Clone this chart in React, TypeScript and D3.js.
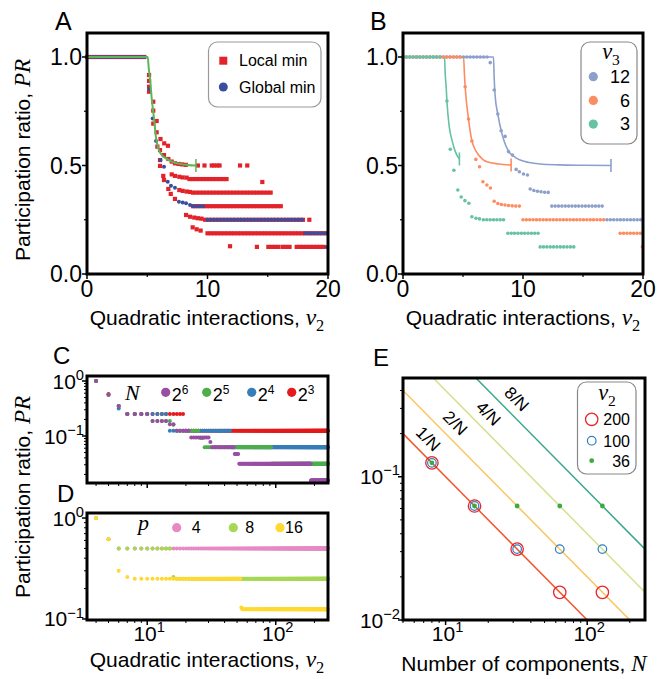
import React from "react";
import * as d3 from "d3";

type P = [number, number];
type Run = [number, number, number];

// ---------------- Panel A data (v2, PR) ----------------
const aLocalPoints: P[] = [
  [5.15, 0.917], [5.15, 0.89], [5.15, 0.863], [5.15, 0.84], [5.5, 0.794], [5.5, 0.753],
  [5.78, 0.705], [5.5, 0.693], [5.78, 0.653], [6.1, 0.622], [6.41, 0.602], [6.72, 0.591],
  [5.84, 0.587], [6.06, 0.571], [6.39, 0.548], [6.75, 0.53], [7.03, 0.518], [6.06, 0.525],
  [6.06, 0.498], [7.3, 0.51], [7.6, 0.507], [7.9, 0.505], [8.2, 0.503],
  [9.2, 0.5], [9.75, 0.5], [10.35, 0.5], [10.55, 0.5], [10.8, 0.5], [11.0, 0.5], [12.7, 0.5], [13.3, 0.5],
  [6.33, 0.452], [7.03, 0.459], [7.3, 0.452], [7.66, 0.448], [7.94, 0.445], [8.27, 0.444],
  [14.55, 0.424],
  [6.39, 0.433], [6.75, 0.392], [7.66, 0.387], [7.94, 0.383], [8.27, 0.38], [8.55, 0.378],
  [6.95, 0.369], [7.3, 0.346],
  [8.22, 0.272], [8.55, 0.264], [8.9, 0.26], [9.2, 0.257], [9.5, 0.255], [18.45, 0.25],
  [8.77, 0.215], [9.1, 0.206], [9.43, 0.2],
  [11.87, 0.128],
];
const aLocalRuns: Run[] = [
  [0, 5, 1], [8.5, 11.6, 0.4375], [8.8, 15.3, 0.375], [8.8, 16.15, 0.3125], [9.8, 18.0, 0.25],
  [10, 19.9, 0.1875], [14.1, 14.35, 0.125], [15.05, 15.9, 0.125], [16.25, 17.05, 0.125], [17.4, 19.9, 0.125],
];
const aGlobalPoints: P[] = [
  [5.15, 0.853], [5.45, 0.717], [5.73, 0.613], [6.1, 0.525], [6.39, 0.494], [6.7, 0.425],
  [6.97, 0.407], [7.3, 0.398], [7.63, 0.333], [7.94, 0.33], [8.22, 0.326], [8.55, 0.318], [19.9, 0.125],
];
const aGlobalRuns: Run[] = [[0, 5, 1], [8.8, 9.9, 0.3125], [10, 17.9, 0.25], [18.1, 19.9, 0.1875]];
const aTheory: P[] = [
  [0, 1], [5.04, 1], [5.12, 0.95], [5.23, 0.9], [5.37, 0.81], [5.56, 0.718], [5.75, 0.62],
  [6.1, 0.556], [6.5, 0.535], [7.03, 0.518], [8, 0.505], [9.04, 0.5],
];
const aLegend = ["Local min", "Global min"];

// ---------------- Panel B data ----------------
const bV3Labels = ["12", "6", "3"];
const b12Points: P[] = [
  [7.27, 0.974], [7.6, 0.848], [7.9, 0.737], [8.18, 0.66], [8.51, 0.634], [8.79, 0.564], [9.12, 0.548],
  [9.43, 0.482], [9.7, 0.471], [10.04, 0.461], [10.37, 0.456], [10.6, 0.392], [10.9, 0.385],
  [11.2, 0.381], [11.5, 0.379], [11.8, 0.377], [12.1, 0.376],
];
const b12Runs: Run[] = [[0, 7.0, 1], [12.4, 16.75, 0.313], [17.0, 19.9, 0.25]];
const b12Curve: P[] = [
  [0, 1], [7.54, 1], [7.6, 0.9], [7.68, 0.82], [7.9, 0.737], [8.24, 0.648], [8.79, 0.566], [9.3, 0.54],
  [9.76, 0.525], [10.5, 0.514], [11.43, 0.507], [13, 0.503], [15, 0.501], [17.33, 0.5],
];
const b6Points: P[] = [
  [5.18, 0.863], [5.46, 0.714], [5.74, 0.613], [6.07, 0.528], [6.38, 0.494], [6.66, 0.425], [6.99, 0.41],
  [7.29, 0.396], [7.6, 0.335], [7.9, 0.325], [8.2, 0.32], [8.5, 0.318], [8.8, 0.316], [9.1, 0.314],
  [9.4, 0.313], [9.7, 0.313], [19.95, 0.125],
];
const b6Runs: Run[] = [[0, 4.9, 1], [10.0, 16.8, 0.25], [18.1, 19.9, 0.1875]];
const b6Curve: P[] = [
  [0, 1], [5.05, 1], [5.12, 0.92], [5.18, 0.863], [5.46, 0.714], [5.74, 0.615], [6.0, 0.575],
  [6.3, 0.548], [6.99, 0.517], [7.96, 0.507], [9.01, 0.502],
];
const b3Points: P[] = [
  [3.66, 0.797], [3.94, 0.575], [4.24, 0.478], [4.57, 0.387], [4.85, 0.355], [5.16, 0.338],
  [5.49, 0.326], [5.74, 0.264], [6.08, 0.257], [6.38, 0.254],
];
const b3Runs: Run[] = [[0, 3.3, 1], [6.7, 8.6, 0.25], [8.74, 11.35, 0.1875], [11.43, 14.34, 0.125]];
const b3Curve: P[] = [
  [0, 1], [3.46, 1], [3.52, 0.92], [3.6, 0.86], [3.66, 0.797], [3.85, 0.68], [4.08, 0.617],
  [4.35, 0.565], [4.7, 0.53],
];

// ---------------- Panel C data (v2, PR) by N ----------------
const cNExponents = ["6", "5", "4", "3"];
const cN64Points: P[] = [[4, 1], [5, 0.56], [6, 0.35], [15, 0.163], [16, 0.163], [31, 0.078]];
const cN64Runs: Run[] = [
  [7, 10, 0.25], [11, 14, 0.1875], [17, 21, 0.125], [22, 30, 0.094], [32, 47, 0.0625],
  [48, 51, 0.047], [52, 187, 0.03125], [188, 255, 0.0156],
];
const cN32Points: P[] = [[4, 1], [5, 0.56], [6, 0.35], [16, 0.16]];
const cN32Runs: Run[] = [
  [7, 10, 0.25], [11, 15, 0.1875], [17, 25, 0.125], [26, 27, 0.092], [28, 92, 0.0625], [93, 255, 0.03125],
];
const cN16Points: P[] = [[4, 1], [5, 0.56], [6, 0.315]];
const cN16Runs: Run[] = [[7, 14, 0.25], [15, 44, 0.125], [45, 255, 0.0625]];
const cN8Points: P[] = [[4, 1], [5, 0.58], [6, 0.35]];
const cN8Runs: Run[] = [[7, 19, 0.25], [20, 255, 0.125]];

// ---------------- Panel D data by p ----------------
const dPLabels = ["4", "8", "16"];
const dP4Points: P[] = [[4, 1], [5, 0.615]];
const dP4Runs: Run[] = [[6, 255, 0.5]];
const dP8Points: P[] = [[4, 1], [5, 0.615], [16, 0.26]];
const dP8Runs: Run[] = [[6, 15, 0.5], [17, 255, 0.25]];
const dP16Points: P[] = [[4, 1], [5, 0.615], [6, 0.3], [7, 0.26], [54, 0.13]];
const dP16Runs: Run[] = [[8, 53, 0.25], [55, 255, 0.125]];

// ---------------- Panel E data ----------------
const eN = [8, 16, 32, 64, 128];
const eV200 = [0.125, 0.0625, 0.03125, 0.0156, 0.0156];
const eV100 = [0.125, 0.0625, 0.03125, 0.03125, 0.03125];
const eV36 = [0.125, 0.0625, 0.0625, 0.0625, 0.0625];
const eLineK = [1, 2, 4, 8];
const eLegendLabels = ["200", "100", "36"];

// ---------------- style ----------------
const SANS = "'Liberation Sans', Arial, Helvetica, sans-serif";
const SERIF = "'Liberation Serif', 'Times New Roman', serif";
const RED_A = "#e3232a";
const BLUE_A = "#3a4ea0";
const GREEN_A = "#5ab75a";
const B_COLORS = ["#8da0cb", "#fc8d62", "#66c2a5"];
const C_COLORS = ["#984ea3", "#4daf4a", "#377eb8", "#e41a1c"];
const D_COLORS = ["#e78ac3", "#a6d854", "#ffd92f"];
const E_LINE_COLORS = ["#f0582f", "#fbc45e", "#d5e08c", "#3aa78a"];
const E_RED = "#e8262c";
const E_BLUE = "#2f7fc1";
const E_GREEN = "#3bab3b";
const E_LABEL_N = [6.4, 9.9, 17, 27];

const LIN_X_MAJOR = [0, 10, 20];
const LIN_X_MINOR = [5, 15];
const LIN_Y_MAJOR = [0, 0.5, 1];
const LIN_Y_MINOR = [0.25, 0.75];

function expand(runs: Run[], step: number): P[] {
  const out: P[] = [];
  for (const [x0, x1, y] of runs) {
    const n = Math.floor((x1 - x0) / step + 1e-9);
    for (let i = 0; i <= n; i++) out.push([x0 + i * step, y]);
  }
  return out;
}

function logTicks(min: number, max: number) {
  const out: { v: number; major: boolean; exp: number }[] = [];
  for (let d = Math.floor(Math.log10(min)); d <= Math.ceil(Math.log10(max)); d++) {
    for (let m = 1; m <= 9; m++) {
      const v = m * Math.pow(10, d);
      if (v >= min * 0.9999 && v <= max * 1.0001) out.push({ v, major: m === 1, exp: d });
    }
  }
  return out;
}

type Box = { l: number; r: number; t: number; b: number };

function Frame({ box }: { box: Box }) {
  return <rect x={box.l} y={box.t} width={box.r - box.l} height={box.b - box.t} fill="none" stroke="#000" strokeWidth={3} />;
}

function LinAxes({ box, sx, sy }: { box: Box; sx: any; sy: any }) {
  return (
    <g>
      {LIN_X_MAJOR.map((v) => (
        <g key={"xM" + v}>
          <line x1={sx(v)} x2={sx(v)} y1={box.b} y2={box.b + 5} stroke="#000" strokeWidth={1.5} />
          <text x={sx(v)} y={box.b + 23} textAnchor="middle" fontSize={23} fontFamily={SANS}>{v}</text>
        </g>
      ))}
      {LIN_X_MINOR.map((v) => (
        <line key={"xm" + v} x1={sx(v)} x2={sx(v)} y1={box.b} y2={box.b + 3} stroke="#000" strokeWidth={1.2} />
      ))}
      {LIN_Y_MAJOR.map((v) => (
        <g key={"yM" + v}>
          <line x1={box.l - 5} x2={box.l} y1={sy(v)} y2={sy(v)} stroke="#000" strokeWidth={1.5} />
          <text x={box.l - 5} y={sy(v) + 8.2} textAnchor="end" fontSize={23} fontFamily={SANS}>{d3.format(".1f")(v)}</text>
        </g>
      ))}
      {LIN_Y_MINOR.map((v) => (
        <line key={"ym" + v} x1={box.l - 3} x2={box.l} y1={sy(v)} y2={sy(v)} stroke="#000" strokeWidth={1.2} />
      ))}
    </g>
  );
}

function Pow10({ x, y, exp, anchor, size }: { x: number; y: number; exp: number; anchor: string; size: number }) {
  const e = exp < 0 ? "\u2212" + Math.abs(exp) : String(exp);
  return (
    <text x={x} y={y} textAnchor={anchor} fontSize={size} fontFamily={SANS}>
      10<tspan dy={-size * 0.42} fontSize={size * 0.7}>{e}</tspan>
    </text>
  );
}

function LogAxes({ box, sx, sy, xLabels, yLabelExps }: { box: Box; sx: any; sy: any; xLabels: boolean; yLabelExps: number[] }) {
  const [x0, x1] = sx.domain();
  const [y0, y1] = sy.domain();
  const xt = logTicks(x0, x1);
  const yt = logTicks(y0, y1);
  return (
    <g>
      {xt.map((t, i) => (
        <line key={"xt" + i} x1={sx(t.v)} x2={sx(t.v)} y1={box.b} y2={box.b + (t.major ? 5 : 3)} stroke="#000" strokeWidth={t.major ? 1.5 : 1} />
      ))}
      {xLabels && xt.filter((t) => t.major).map((t, i) => (
        <Pow10 key={"xl" + i} x={sx(t.v) + 2} y={box.b + 21} exp={t.exp} anchor="middle" size={21} />
      ))}
      {yt.map((t, i) => (
        <line key={"yt" + i} x1={box.l - (t.major ? 5 : 3)} x2={box.l} y1={sy(t.v)} y2={sy(t.v)} stroke="#000" strokeWidth={t.major ? 1.5 : 1} />
      ))}
      {yt.filter((t) => t.major && yLabelExps.includes(t.exp)).map((t, i) => (
        <Pow10 key={"yl" + i} x={box.l - 3} y={sy(t.v) + 7.5} exp={t.exp} anchor="end" size={21} />
      ))}
    </g>
  );
}

function MathSub({ base, sub, size }: { base: string; sub: string; size: number }) {
  return (
    <>
      <tspan fontFamily={SERIF} fontStyle="italic" fontSize={size * 1.12}>{base}</tspan>
      <tspan fontFamily={SERIF} fontSize={size * 0.78} dy={size * 0.28}>{sub}</tspan>
    </>
  );
}

function YLabel({ x, y }: { x: number; y: number }) {
  return (
    <text transform={`translate(${x},${y}) rotate(-90)`} textAnchor="middle" fontSize={21} fontFamily={SANS}>
      Participation ratio, <tspan fontFamily={SERIF} fontStyle="italic" fontSize={23}>PR</tspan>
    </text>
  );
}

function XLabelV2({ x, y }: { x: number; y: number }) {
  return (
    <text x={x} y={y} textAnchor="middle" fontSize={21} fontFamily={SANS}>
      Quadratic interactions, <MathSub base="v" sub="2" size={21} />
    </text>
  );
}

function Dots({ pts, sx, sy, r, color }: { pts: P[]; sx: any; sy: any; r: number; color: string }) {
  return (
    <g fill={color}>
      {pts.map((p, i) => (
        <circle key={i} cx={sx(p[0])} cy={sy(p[1])} r={r} />
      ))}
    </g>
  );
}

export default function App() {
  const A: Box = { l: 87, r: 328, t: 33, b: 274 };
  const B: Box = { l: 403, r: 643, t: 33, b: 274 };
  const C: Box = { l: 87, r: 328, t: 376, b: 483 };
  const D: Box = { l: 87, r: 328, t: 513, b: 620 };
  const E: Box = { l: 403, r: 645, t: 378, b: 620 };

  const xA = d3.scaleLinear().domain([0, 20]).range([A.l, A.r]);
  const yA = d3.scaleLinear().domain([0, 1.1106]).range([A.b, A.t]);
  const xB = d3.scaleLinear().domain([0, 20]).range([B.l, B.r]);
  const yB = d3.scaleLinear().domain([0, 1.1106]).range([B.b, B.t]);
  const xC = d3.scaleLog().domain([3.4, 255]).range([C.l, C.r]);
  const yC = d3.scaleLog().domain([0.01398, 1.233]).range([C.b, C.t]);
  const xD = d3.scaleLog().domain([3.4, 255]).range([D.l, D.r]);
  const yD = d3.scaleLog().domain([0.0977, 1.121]).range([D.b, D.t]);
  const xE = d3.scaleLog().domain([5, 256]).range([E.l, E.r]);
  const yE = d3.scaleLog().domain([0.01, 0.489]).range([E.b, E.t]);

  const STEP = 0.28;
  const aLocal = [...aLocalPoints, ...expand(aLocalRuns, STEP)];
  const aGlobal = [...aGlobalPoints, ...expand(aGlobalRuns, STEP)];
  const lineA = d3.line<P>().x((d) => xA(d[0])).y((d) => yA(d[1])).curve(d3.curveMonotoneX);
  const lineB = d3.line<P>().x((d) => xB(d[0])).y((d) => yB(d[1])).curve(d3.curveMonotoneX);

  const bSeries = [
    { pts: [...b12Points, ...expand(b12Runs, STEP)], curve: b12Curve },
    { pts: [...b6Points, ...expand(b6Runs, STEP)], curve: b6Curve },
    { pts: [...b3Points, ...expand(b3Runs, STEP)], curve: b3Curve },
  ];

  const cSeries = [
    [...cN64Points, ...expand(cN64Runs, 1)],
    [...cN32Points, ...expand(cN32Runs, 1)],
    [...cN16Points, ...expand(cN16Runs, 1)],
    [...cN8Points, ...expand(cN8Runs, 1)],
  ];
  const dSeries = [
    [...dP4Points, ...expand(dP4Runs, 1)],
    [...dP8Points, ...expand(dP8Runs, 1)],
    [...dP16Points, ...expand(dP16Runs, 1)],
  ];

  const capHalf = 6.5;

  return (
    <svg width={667} height={679} style={{ position: "absolute", left: 0, top: 0, background: "#fff" }} fontFamily={SANS}>
      <defs>
        <clipPath id="clipE"><rect x={E.l} y={E.t} width={E.r - E.l} height={E.b - E.t} /></clipPath>
      </defs>
      <rect x={0} y={0} width={667} height={679} fill="#fff" />

      {/* Panel letters */}
      <text x={55} y={30} fontSize={25}>A</text>
      <text x={370} y={30} fontSize={25}>B</text>
      <text x={53} y={364} fontSize={24}>C</text>
      <text x={57} y={502} fontSize={24}>D</text>
      <text x={373} y={366} fontSize={24}>E</text>

      {/* ---------- Panel A ---------- */}
      <g>
        {aLocal.map((p, i) => (
          <rect key={i} x={xA(p[0]) - 2.1} y={yA(p[1]) - 2.1} width={4.2} height={4.2} fill={RED_A} />
        ))}
        <Dots pts={aGlobal} sx={xA} sy={yA} r={2} color={BLUE_A} />
        <path d={lineA(aTheory) || ""} fill="none" stroke={GREEN_A} strokeWidth={2} />
        {(() => {
          const e = aTheory[aTheory.length - 1];
          return <line x1={xA(e[0])} x2={xA(e[0])} y1={yA(e[1]) - capHalf} y2={yA(e[1]) + capHalf} stroke={GREEN_A} strokeWidth={1.5} />;
        })()}
        <LinAxes box={A} sx={xA} sy={yA} />
        <Frame box={A} />
        <rect x={208.5} y={42} width={112.5} height={65} rx={9} fill="#fff" stroke="#999" strokeWidth={1.2} />
        <rect x={219.3} y={56.7} width={8} height={8} fill={RED_A} />
        <text x={239} y={66} fontSize={16}>{aLegend[0]}</text>
        <circle cx={223.3} cy={87} r={4.5} fill={BLUE_A} />
        <text x={239} y={92.5} fontSize={16}>{aLegend[1]}</text>
        <YLabel x={30} y={160} />
        <XLabelV2 x={207} y={325} />
      </g>

      {/* ---------- Panel B ---------- */}
      <g>
        {bSeries.map((s, i) => (
          <path key={"c" + i} d={lineB(s.curve) || ""} fill="none" stroke={B_COLORS[i]} strokeWidth={1.6} />
        ))}
        {bSeries.map((s, i) => {
          const e = s.curve[s.curve.length - 1];
          return <line key={"cap" + i} x1={xB(e[0])} x2={xB(e[0])} y1={yB(e[1]) - capHalf} y2={yB(e[1]) + capHalf} stroke={B_COLORS[i]} strokeWidth={1.6} />;
        })}
        {bSeries.map((s, i) => (
          <Dots key={"d" + i} pts={s.pts} sx={xB} sy={yB} r={1.8} color={B_COLORS[i]} />
        ))}
        <LinAxes box={B} sx={xB} sy={yB} />
        <Frame box={B} />
        <rect x={581} y={42} width={56} height={102} rx={9} fill="#fff" stroke="#888" strokeWidth={1.2} />
        <text x={611} y={59} textAnchor="middle" fontSize={21}><MathSub base="v" sub="3" size={20} /></text>
        {bV3Labels.map((l, i) => (
          <g key={"bl" + i}>
            <circle cx={593.3} cy={76.7 + i * 23.7} r={4.6} fill={B_COLORS[i]} />
            <text x={630} y={76.7 + i * 23.7 + 6.3} textAnchor="end" fontSize={18}>{l}</text>
          </g>
        ))}
        <XLabelV2 x={523} y={325} />
      </g>

      {/* ---------- Panel C ---------- */}
      <g>
        {[3, 2, 1, 0].map((i) => (
          <Dots key={"cs" + i} pts={cSeries[i]} sx={xC} sy={yC} r={2} color={C_COLORS[i]} />
        ))}
        <LogAxes box={C} sx={xC} sy={yC} xLabels={false} yLabelExps={[0, -1]} />
        <Frame box={C} />
        <text x={125} y={400} fontSize={22} fontFamily={SERIF} fontStyle="italic">N</text>
        {cNExponents.map((e, i) => {
          const cx = [165.7, 206.7, 251.7, 291.7][i];
          return (
            <g key={"cl" + i}>
              <circle cx={cx} cy={392.3} r={4.6} fill={C_COLORS[i]} />
              <text x={cx + 6} y={401} fontSize={18}>2<tspan dy={-7} fontSize={12}>{e}</tspan></text>
            </g>
          );
        })}
      </g>

      {/* ---------- Panel D ---------- */}
      <g>
        {dSeries.map((s, i) => (
          <Dots key={"ds" + i} pts={s} sx={xD} sy={yD} r={2} color={D_COLORS[i]} />
        ))}
        <LogAxes box={D} sx={xD} sy={yD} xLabels={true} yLabelExps={[0, -1]} />
        <Frame box={D} />
        <text x={138} y={530} fontSize={22} fontFamily={SERIF} fontStyle="italic">p</text>
        {dPLabels.map((l, i) => {
          const cx = [176.7, 233.3, 280][i];
          return (
            <g key={"dl" + i}>
              <circle cx={cx} cy={527.7} r={4.6} fill={D_COLORS[i]} />
              <text x={cx + [15, 12, 5][i]} y={533} fontSize={16}>{l}</text>
            </g>
          );
        })}
        <XLabelV2 x={207} y={667} />
        <YLabel x={30} y={497} />
      </g>

      {/* ---------- Panel E ---------- */}
      <g>
        <g clipPath="url(#clipE)">
          {eLineK.map((k, i) => (
            <line key={"el" + k} x1={xE(5)} y1={yE(k / 5)} x2={xE(256)} y2={yE(k / 256)} stroke={E_LINE_COLORS[i]} strokeWidth={1.5} />
          ))}
        </g>
        {eLineK.map((k, i) => {
          const n = E_LABEL_N[i];
          return (
            <text key={"elab" + k} transform={`translate(${xE(n) + 6},${yE(k / n) - 6}) rotate(45)`} textAnchor="middle" fontSize={17}>
              {k}/N
            </text>
          );
        })}
        {eN.map((n, i) => (
          <circle key={"r" + i} cx={xE(n)} cy={yE(eV200[i])} r={6.2} fill="none" stroke={E_RED} strokeWidth={1.3} />
        ))}
        {eN.map((n, i) => (
          <circle key={"b" + i} cx={xE(n)} cy={yE(eV100[i])} r={4.3} fill="none" stroke={E_BLUE} strokeWidth={1.2} />
        ))}
        {eN.map((n, i) => (
          <circle key={"g" + i} cx={xE(n)} cy={yE(eV36[i])} r={2.4} fill={E_GREEN} />
        ))}
        <LogAxes box={E} sx={xE} sy={yE} xLabels={true} yLabelExps={[-1, -2]} />
        <Frame box={E} />
        <rect x={577.5} y={382} width={58.5} height={92} rx={9} fill="#fff" stroke="#888" strokeWidth={1.2} />
        <text x={607} y={400} textAnchor="middle" fontSize={21}><MathSub base="v" sub="2" size={20} /></text>
        <circle cx={591.7} cy={419.3} r={6.2} fill="none" stroke={E_RED} strokeWidth={1.3} />
        <circle cx={591.7} cy={440.7} r={4.3} fill="none" stroke={E_BLUE} strokeWidth={1.2} />
        <circle cx={591.7} cy={460.7} r={2.4} fill={E_GREEN} />
        {eLegendLabels.map((l, i) => (
          <text key={"elg" + i} x={630} y={[419.3, 440.7, 460.7][i] + 5.8} textAnchor="end" fontSize={16}>{l}</text>
        ))}
        <text x={524} y={671} textAnchor="middle" fontSize={21}>
          Number of components, <tspan fontFamily={SERIF} fontStyle="italic" fontSize={23}>N</tspan>
        </text>
      </g>
    </svg>
  );
}
